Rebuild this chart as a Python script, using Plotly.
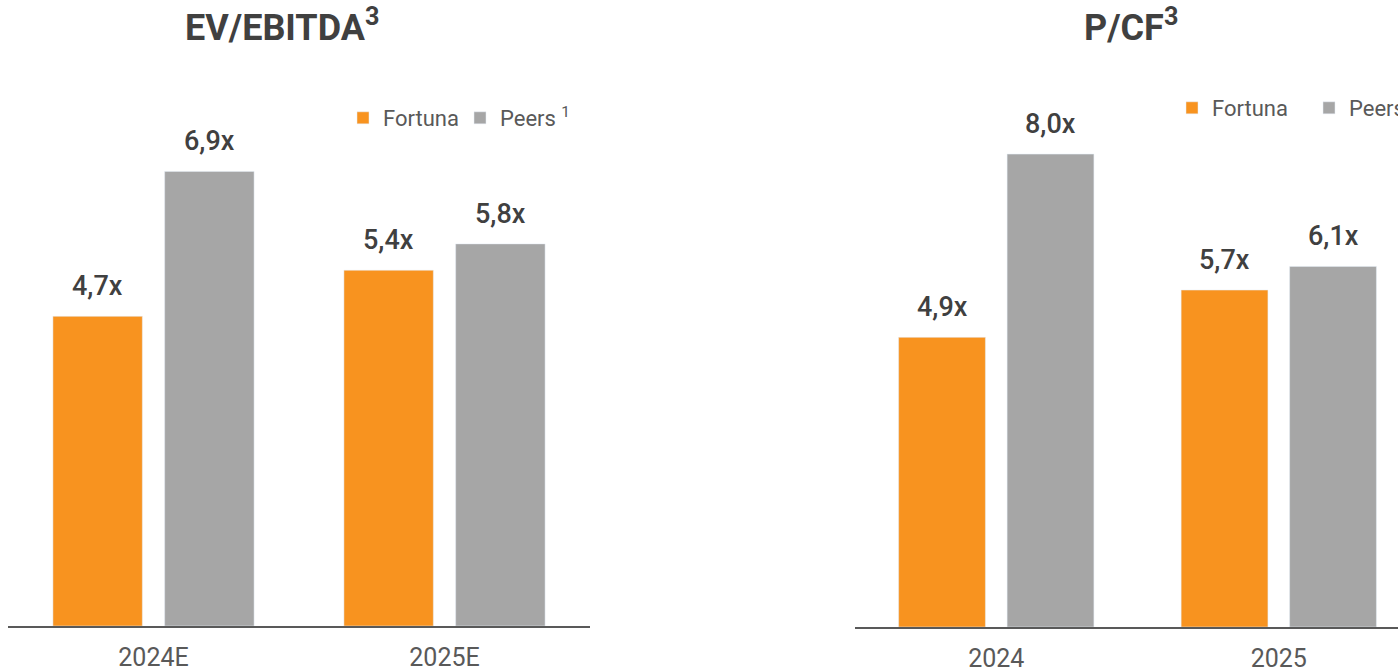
import plotly.graph_objects as go

# EV/EBITDA panel
ev_years = ["2024E", "2025E"]
ev_fortuna = [4.7, 5.4]
ev_peers = [6.9, 5.8]

# P/CF panel
pcf_years = ["2024", "2025"]
pcf_fortuna = [4.9, 5.7]
pcf_peers = [8.0, 6.1]

ORANGE = "#F8931F"
GREY = "#A6A6A6"
TXT = "#404040"
BARGAP = 0.232
GROUPGAP = 0.2
W, H = 1398, 668


def fmt(v):
    return f"{v:.1f}".replace(".", ",") + "x"


fig = go.Figure()

fig.add_bar(x=ev_years, y=ev_fortuna, name="Fortuna", marker_color=ORANGE,
            xaxis="x", yaxis="y", legend="legend")
fig.add_bar(x=ev_years, y=ev_peers, name="Peers <sup>1</sup>", marker_color=GREY,
            xaxis="x", yaxis="y", legend="legend")
fig.add_bar(x=pcf_years, y=pcf_fortuna, name="Fortuna", marker_color=ORANGE,
            xaxis="x2", yaxis="y2", legend="legend2")
fig.add_bar(x=pcf_years, y=pcf_peers, name="Peers <sup>1</sup>", marker_color=GREY,
            xaxis="x2", yaxis="y2", legend="legend2")

# domains in pixels
x1 = (8, 590)
x2 = (855, W)
x2_range = (-0.5, 1.422)
base1, top1, yr1 = 626, 66, 8.5
base2, top2, yr2 = 627, 95, 9.0

cat1 = (x1[1] - x1[0]) / 2
cat2 = (x2[1] - x2[0]) / (x2_range[1] - x2_range[0])
shift1 = cat1 * (1 - BARGAP) / 4
shift2 = cat2 * (1 - BARGAP) / 4

anns = []
for xs, fv, pv, xr, yr, sh in [(ev_years, ev_fortuna, ev_peers, "x", "y", shift1),
                               (pcf_years, pcf_fortuna, pcf_peers, "x2", "y2", shift2)]:
    # category index as x, so "2024" is not read as a number
    for i, (a, b) in enumerate(zip(fv, pv)):
        for v, s in [(a, -sh), (b, sh)]:
            anns.append(dict(x=i, y=v, xref=xr, yref=yr, text=fmt(v), showarrow=False,
                             xshift=s, yshift=12, yanchor="bottom",
                             font=dict(family="Roboto", size=27, color=TXT, weight=500)))

title_font = dict(family="Roboto", size=36, color=TXT)
anns.append(dict(x=282 / W, y=1 - 25 / H, xref="paper", yref="paper", text="<b>EV/EBITDA<sup>3</sup></b>",
                 showarrow=False, xanchor="center", yanchor="middle", font=title_font))
anns.append(dict(x=1131 / W, y=1 - 25 / H, xref="paper", yref="paper", text="<b>P/CF<sup>3</sup></b>",
                 showarrow=False, xanchor="center", yanchor="middle", font=title_font))

xaxis_common = dict(type="category", showline=True, linecolor="#595959", linewidth=2, showgrid=False,
                    ticks="outside", ticklen=8, tickcolor="rgba(0,0,0,0)",
                    tickfont=dict(family="Roboto", size=25, color="#595959"), fixedrange=True)
yaxis_common = dict(visible=False, showgrid=False, zeroline=False, fixedrange=True)

legend_font = dict(family="Roboto", size=22, color="#595959")

fig.update_layout(
    width=W, height=H,
    margin=dict(l=0, r=0, t=0, b=0, autoexpand=False),
    paper_bgcolor="white", plot_bgcolor="white",
    barmode="group", bargap=BARGAP, bargroupgap=GROUPGAP,
    separators=",.",
    xaxis=dict(domain=[x1[0] / W, x1[1] / W], anchor="y", **xaxis_common),
    yaxis=dict(domain=[(H - base1) / H, (H - top1) / H], range=[0, yr1], anchor="x", **yaxis_common),
    xaxis2=dict(domain=[x2[0] / W, 1], range=list(x2_range), anchor="y2", **xaxis_common),
    yaxis2=dict(domain=[(H - base2) / H, (H - top2) / H], range=[0, yr2], anchor="x2", **yaxis_common),
    legend=dict(orientation="h", x=343 / W, y=1 - 118 / H, xanchor="left", yanchor="middle",
                entrywidth=72, entrywidthmode="pixels", font=legend_font, bgcolor="rgba(0,0,0,0)"),
    legend2=dict(orientation="h", x=1172 / W, y=1 - 108 / H, xanchor="left", yanchor="middle",
                 entrywidth=92, entrywidthmode="pixels", font=legend_font, bgcolor="rgba(0,0,0,0)"),
    annotations=anns,
    showlegend=True,
)

fig.write_html("out.html", config={"displayModeBar": False},
               post_script="document.body.style.margin='0';")
